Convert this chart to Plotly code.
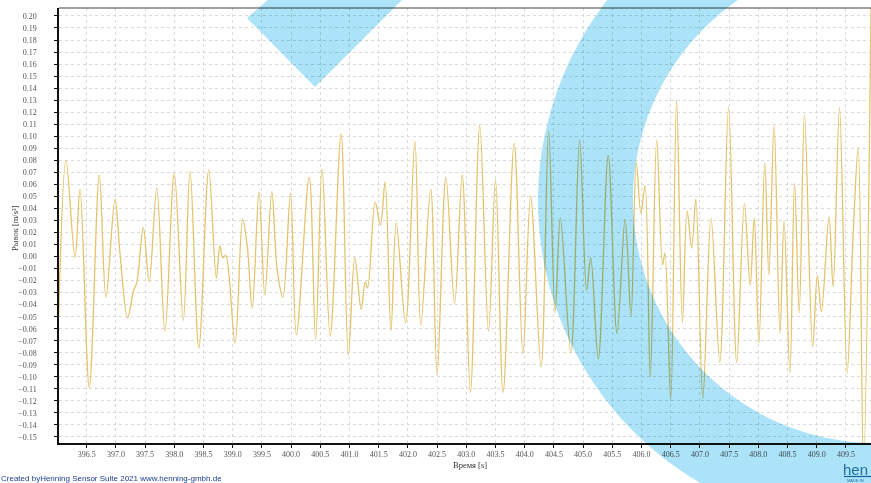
import math
import plotly.graph_objects as go

# ---------------- data ----------------
time_s = [
    396.02, 396.146, 396.30, 396.385, 396.545, 396.716, 396.83, 396.985, 397.07, 397.20,
    397.30, 397.36, 397.47, 397.57, 397.70, 397.84, 398.00, 398.155, 398.27, 398.42,
    398.59, 398.72, 398.78, 398.83, 398.88, 399.04, 399.17, 399.25, 399.335, 399.45,
    399.55, 399.67, 399.76, 399.86, 399.99, 400.09, 400.31, 400.42, 400.53, 400.67,
    400.855, 400.98, 401.09, 401.20, 401.27, 401.31, 401.44, 401.53, 401.61, 401.71,
    401.80, 401.96, 402.12, 402.22, 402.39, 402.50, 402.65, 402.80, 402.93, 403.07,
    403.23, 403.38, 403.50, 403.63, 403.82, 403.97, 404.10, 404.28, 404.41, 404.52,
    404.61, 404.79, 404.94, 405.06, 405.13, 405.26, 405.43, 405.58, 405.72, 405.82,
    405.91, 405.99, 406.06, 406.15, 406.26, 406.36, 406.40, 406.50, 406.60, 406.70,
    406.78, 406.86, 406.93, 407.05, 407.19, 407.34, 407.49, 407.63, 407.76, 407.86,
    407.93, 408.01, 408.11, 408.18, 408.27, 408.37, 408.44, 408.54, 408.62, 408.70,
    408.79, 408.93, 409.01, 409.08, 409.21, 409.28, 409.39, 409.52, 409.62, 409.71,
    409.80, 409.935,
]
jerk = [
    -0.050, 0.080, -0.001, 0.056, -0.109, 0.068, -0.034, 0.048, 0.003, -0.051,
    -0.029, -0.021, 0.024, -0.021, 0.057, -0.062, 0.069, -0.053, 0.071, -0.076,
    0.072, -0.018, 0.009, -0.001, 0.001, -0.072, 0.031, 0.008, -0.043, 0.054,
    -0.032, 0.054, -0.010, -0.034, 0.053, -0.065, 0.066, -0.069, 0.073, -0.066,
    0.102, -0.082, -0.001, -0.044, -0.021, -0.026, 0.045, 0.026, 0.062, -0.062,
    0.028, -0.055, 0.096, -0.057, 0.056, -0.098, 0.066, -0.039, 0.068, -0.113,
    0.109, -0.062, 0.064, -0.113, 0.094, -0.081, 0.050, -0.092, 0.104, -0.047,
    0.032, -0.080, 0.097, -0.028, -0.001, -0.085, 0.084, -0.064, 0.031, -0.050,
    0.078, 0.036, 0.059, -0.100, 0.097, -0.007, 0.003, -0.119, 0.130, -0.055,
    0.038, 0.007, 0.048, -0.118, 0.032, -0.088, 0.124, -0.088, 0.044, -0.024,
    0.032, -0.072, 0.078, -0.015, 0.109, -0.064, 0.030, -0.097, 0.061, -0.047,
    0.118, -0.075, -0.016, -0.046, 0.033, -0.025, 0.124, -0.097, 0.014, 0.091,
    -0.175, 0.230,
]

x_title = "Время [s]"
y_title = "Рывок [m/s³]"
footer_text = "Created byHenning Sensor Suite 2021 www.henning-gmbh.de"
logo_text = "hen"
logo_sub = "MADE IN"

x_range = [396.026, 409.929]
y_range = [-0.155, 0.2066]

# ---------------- layout geometry ----------------
W, H = 871, 483
ML, MR, MT, MB = 59, 0, 8, 40
PW, PH = W - ML - MR, H - MT - MB

def px2paper(px, py):
    return (px - ML) / PW, (H - MB - py) / PH

def poly_path(pts):
    s = []
    for i, (px, py) in enumerate(pts):
        x, y = px2paper(px, py)
        s.append(("M" if i == 0 else "L") + f"{x:.5f},{y:.5f}")
    return " ".join(s) + " Z"

def circle_pts(cx, cy, r, n=180, reverse=False):
    pts = [(cx + r * math.cos(2 * math.pi * k / n), cy + r * math.sin(2 * math.pi * k / n)) for k in range(n)]
    return pts[::-1] if reverse else pts

BLUE = "rgb(173,227,248)"

fig = go.Figure()
fig.add_trace(go.Scatter(
    x=time_s, y=jerk, mode="lines",
    line=dict(color="#e3c36b", width=1.3, shape="spline", smoothing=1.0),
    hoverinfo="skip", showlegend=False,
))

tick_font = dict(family="Liberation Serif", size=8, color="#555555")
title_font = dict(family="Liberation Serif", size=8.5, color="#333333")

fig.update_layout(
    width=W, height=H,
    margin=dict(l=ML, r=MR, t=MT, b=MB, pad=0),
    paper_bgcolor="white", plot_bgcolor="white",
    showlegend=False,
    xaxis=dict(
        range=x_range, tick0=396.5, dtick=0.5, tickformat=".1f",
        showgrid=True, gridcolor="#dadada", griddash="dot", gridwidth=1,
        showline=True, linecolor="#111111", linewidth=1.5,
        ticks="outside", ticklen=3, tickcolor="#111111",
        tickfont=tick_font, zeroline=False,
    ),
    yaxis=dict(
        range=y_range, tick0=0, dtick=0.01, tickformat=".2f",
        showgrid=True, gridcolor="#dadada", griddash="dot", gridwidth=1,
        showline=True, linecolor="#111111", linewidth=1.5,
        ticks="outside", ticklen=3, tickcolor="#111111",
        ticklabelstandoff=16,
        tickfont=tick_font, zeroline=False,
    ),
)

# axis titles
tx, ty = px2paper(470, 465)
fig.add_annotation(xref="paper", yref="paper", x=tx, y=ty, xanchor="center", yanchor="middle",
                   text=x_title, showarrow=False, font=title_font)
yx, yy = px2paper(15, 228)
fig.add_annotation(xref="paper", yref="paper", x=yx, y=yy, xanchor="center", yanchor="middle",
                   text=y_title, showarrow=False, textangle=-90, font=title_font)

# top border of the plot frame
fig.add_shape(type="line", xref="paper", yref="paper", x0=0, x1=1, y0=1, y1=1,
              line=dict(color="#a0a0a0", width=2), layer="above")

# watermark: diamond and ring
diamond = [(247, 18), (270, -2), (404, -2), (315, 87)]
fig.add_shape(type="path", xref="paper", yref="paper", path=poly_path(diamond),
              fillcolor=BLUE, line=dict(width=0), layer="above")
ring = poly_path(circle_pts(864, 201, 326)) + " " + poly_path(circle_pts(876, 200, 243, reverse=True))
fig.add_shape(type="path", xref="paper", yref="paper", path=ring, fillrule="evenodd",
              fillcolor=BLUE, line=dict(width=0), layer="above")

# footer text
fx, fy = px2paper(-1, 478)
fig.add_annotation(xref="paper", yref="paper", x=fx, y=fy, xanchor="left", yanchor="middle",
                   text=footer_text, showarrow=False,
                   font=dict(family="Liberation Sans", size=8, color="#1a3c8c"))

# logo
lx, ly = px2paper(870, 469)
fig.add_annotation(xref="paper", yref="paper", x=lx, y=ly, xanchor="right", yanchor="middle",
                   text=logo_text, showarrow=False,
                   font=dict(family="Liberation Sans", size=15, color="#1f6fa3"))
sx, sy = px2paper(845, 480)
fig.add_annotation(xref="paper", yref="paper", x=sx, y=sy, xanchor="left", yanchor="middle",
                   text=logo_sub, showarrow=False,
                   font=dict(family="Liberation Sans", size=4, color="#1f6fa3"))
u0x, u0y = px2paper(844, 476.5)
u1x, _ = px2paper(871, 476.5)
fig.add_shape(type="line", xref="paper", yref="paper", x0=u0x, x1=u1x, y0=u0y, y1=u0y,
              line=dict(color="#1f6fa3", width=1.2), layer="above")

post = ("var s=document.createElement('style');"
        "s.innerHTML='.layer-above .shapelayer path{mix-blend-mode:multiply;}';"
        "document.head.appendChild(s);")
fig.write_html("out.html", post_script=post, config={"displayModeBar": False})
